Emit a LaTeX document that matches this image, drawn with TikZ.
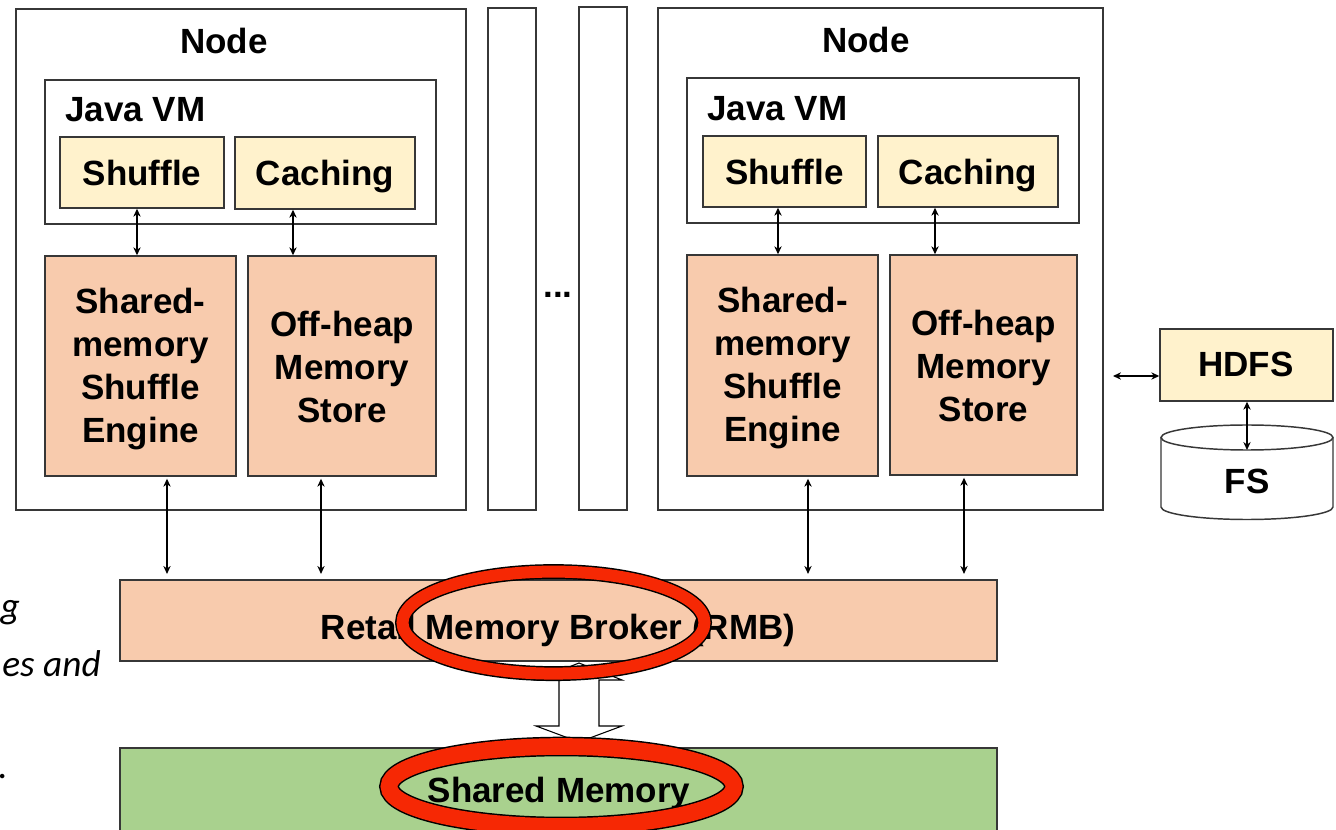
\documentclass[tikz,border=0pt]{standalone}
\usepackage{fontspec}
\setmainfont{Liberation Sans}
\newfontfamily\cali{Carlito}
\usetikzlibrary{arrows.meta,fit,shapes.geometric}
\definecolor{peach}{RGB}{248,203,173}
\definecolor{cream}{RGB}{255,242,204}
\definecolor{smgreen}{RGB}{169,209,142}
\definecolor{redring}{RGB}{246,40,4}
\definecolor{edgec}{RGB}{55,55,55}
\tikzset{
  box/.style={draw=edgec, line width=1.1pt, inner sep=0pt},
  lbl/.style={font=\fontsize{26.25pt}{32.25pt}\selectfont\bfseries, inner sep=0pt, align=center},
  frag/.style={font=\fontsize{28pt}{33pt}\selectfont\cali\itshape, inner sep=0pt},
  dbl/.style={line width=0.9pt, {Stealth[length=6pt,width=5.5pt]}-{Stealth[length=6pt,width=5.5pt]}},
  ring/.style={ellipse, draw=black, line width=1.1pt, double=redring, inner sep=0pt}
}
\begin{document}
\begin{tikzpicture}[x=0.75pt,y=-0.75pt]
\useasboundingbox (0,0) rectangle (1336,830);
\clip (0,0) rectangle (1336,830);
\fill[white] (0,0) rectangle (1336,830);

% left node
\node[box, fit={(16,9) (466,510)}] (nodeL) {};
\node[lbl, anchor=base] (nodeLt) at (224,54) {Node};
\node[box, fit={(45,80) (436,224)}] (jvmL) {};
\node[lbl, anchor=base west] (jvmLt) at (65,122) {Java VM};
\node[box, fill=cream, fit={(60,137) (224,208)}] (shufL) {};
\node[lbl, anchor=base] (shufLt) at (142,186) {Shuffle};
\node[box, fill=cream, fit={(235,137) (415,209)}] (cachL) {};
\node[lbl, anchor=base] (cachLt) at (325,186) {Caching};
\node[box, fill=peach, fit={(45,256) (236,476)}] (engL) {};
\node[lbl] (engLt) at (140.5,369) {Shared-\\memory\\Shuffle\\Engine};
\node[box, fill=peach, fit={(248,256) (436,476)}] (offL) {};
\node[lbl] (offLt) at (342,367) {Off-heap\\Memory\\Store};

% dividers
\node[box, fit={(488,8) (536,510)}] (div1) {};
\node[box, fit={(579,7) (627,510)}] (div2) {};
\node[lbl, anchor=base] (dots) at (558,298) {...};

% right node
\node[box, fit={(658,8) (1103,510)}] (nodeR) {};
\node[lbl, anchor=base] (nodeRt) at (866,53) {Node};
\node[box, fit={(687,78) (1079,223)}] (jvmR) {};
\node[lbl, anchor=base west] (jvmRt) at (707,121) {Java VM};
\node[box, fill=cream, fit={(703,136) (866,207)}] (shufR) {};
\node[lbl, anchor=base] (shufRt) at (784.5,185) {Shuffle};
\node[box, fill=cream, fit={(878,136) (1058,207)}] (cachR) {};
\node[lbl, anchor=base] (cachRt) at (968,185) {Caching};
\node[box, fill=peach, fit={(687,255) (878,476)}] (engR) {};
\node[lbl] (engRt) at (782.5,368) {Shared-\\memory\\Shuffle\\Engine};
\node[box, fill=peach, fit={(890,255) (1077,475)}] (offR) {};
\node[lbl] (offRt) at (983.5,366) {Off-heap\\Memory\\Store};

% HDFS and FS
\node[box, fill=cream, fit={(1160,329) (1333,401)}] (hdfs) {};
\node[lbl, anchor=base] (hdfst) at (1246,377) {HDFS};
\draw[box, fill=white] (1161,437.5) -- (1161,507) arc[start angle=180, end angle=360, x radius=64.5pt, y radius=9.375pt] -- (1333,437.5);
\draw[box, fill=white] (1247,437.5) ellipse [x radius=64.5pt, y radius=9.375pt];
\coordinate (fstop) at (1247,450);
\node[lbl, anchor=base] (fst) at (1247,494) {FS};
\coordinate (hleft) at (1113,376);

% RMB and shared memory
\node[box, fill=peach, fit={(120,580) (997,661)}] (rmb) {};
\node[lbl, anchor=base] (rmbt) at (558,639) {Retail Memory Broker (RMB)};
\node[box, fill=smgreen, fit={(120,748) (997,845)}] (sm) {};
\node[lbl, anchor=base] (smt) at (559,802) {Shared Memory};

% arrows
\draw[dbl] (shufL.south -| 137,0) -- (engL.north -| 137,0);
\draw[dbl] (cachL.south -| 293,0) -- (offL.north -| 293,0);
\draw[dbl] (shufR.south -| 778,0) -- (engR.north -| 778,0);
\draw[dbl] (cachR.south -| 935,0) -- (offR.north -| 935,0);
\draw[dbl, shorten <=1.5pt, shorten >=4pt] (engL.south -| 167,0) -- (rmb.north -| 167,0);
\draw[dbl, shorten <=1.5pt, shorten >=4pt] (offL.south -| 321,0) -- (rmb.north -| 321,0);
\draw[dbl, shorten <=1.5pt, shorten >=4pt] (engR.south -| 808,0) -- (rmb.north -| 808,0);
\draw[dbl, shorten <=1.5pt, shorten >=4pt] (offR.south -| 964,0) -- (rmb.north -| 964,0);
\draw[dbl] (hleft) -- (hleft -| hdfs.west);
\draw[dbl] (hdfs.south -| fstop) -- (fstop);

% hollow double arrow
\draw[line width=0.8pt, fill=white] (579,663) -- (622,680) -- (599,680) -- (599,726) -- (622,726) -- (579,742) -- (536,726) -- (559,726) -- (559,680) -- (536,680) -- cycle;

% red rings
\node[ring, double distance=9pt, minimum width=226.5pt, minimum height=76.5pt] (ring1) at (553.5,622.6) {};
\node[ring, double distance=12.5pt, minimum width=258.75pt, minimum height=60pt] (ring2) at (561.5,786.5) {};

% cut-off italic text fragments
\node[frag, anchor=base east] (f1) at (20,618) {g};
\node[frag, anchor=base east] (f2) at (101,676) {es and};
\node[frag, anchor=base east] (f3) at (8,778) {.};
\end{tikzpicture}
\end{document}
